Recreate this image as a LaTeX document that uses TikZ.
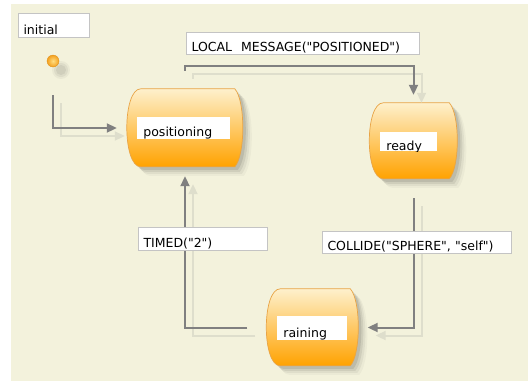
\documentclass[tikz,border=0pt]{standalone}
\usepackage{fontspec}
\setmainfont{DejaVu Sans}[Ligatures=TeXOff]
\usepackage{tikz}
\usetikzlibrary{arrows.meta, positioning, calc}
\definecolor{bgcream}{RGB}{243,242,220}
\definecolor{linegray}{RGB}{128,128,128}
\definecolor{lineshade}{RGB}{222,222,204}
\definecolor{tagline}{RGB}{196,196,196}
\definecolor{sttop}{RGB}{254,240,204}
\definecolor{stmid}{RGB}{255,204,100}
\definecolor{stbot}{RGB}{255,162,0}
\definecolor{stedge}{RGB}{232,164,70}
\definecolor{dotlight}{RGB}{255,222,130}
\definecolor{dotorange}{RGB}{244,160,30}
\newcommand{\lblfont}{\fontsize{12.5}{15}\selectfont}
% outline of a state: flat top and bottom, bulging sides
\newcommand{\stateoutline}[2]{%
  (14,0) -- ({#1-8},0) .. controls ({#1+2.67},{#2*0.15}) and ({#1+2.67},{#2*0.85}) .. ({#1-8},{#2})
  -- (14,{#2}) .. controls (-4.67,{#2}) and (-4.67,0) .. (14,0) -- cycle}
\tikzset{
  statenode/.style={rectangle, draw=none, inner sep=0pt},
  stateshape/.style={draw=stedge, line width=0.7pt,
    top color=sttop, middle color=stmid, bottom color=stbot},
  tagnode/.style={rectangle, draw=tagline, fill=white, line width=1pt,
    anchor=north west, inner xsep=5pt, inner ysep=0pt, align=left,
    text depth=3.5pt, font=\lblfont},
  statetag/.style n args={2}{rectangle, fill=white, anchor=north west, inner sep=0pt,
    path picture={\node[anchor=base west, inner sep=0pt, minimum size=0pt, font=\lblfont]
      at ([xshift=6pt,yshift=#2]path picture bounding box.south west) {#1};}},
  flowarrow/.style={-{Triangle[length=10pt,width=9pt]}, line width=2pt}
}
\begin{document}
\begin{tikzpicture}[x=1pt, y=-1pt,
  initdot/.style={circle, minimum size=12pt, inner sep=0pt,
    inner color=dotlight, outer color=dotorange, draw=dotorange!90!black, line width=0.3pt}]

  \useasboundingbox (0,0) rectangle (528,381);
  \fill[white] (0,0) rectangle (528,381);
  \fill[bgcream] (11,4) rectangle (528,381);

  % States
  \foreach \r/\o in {9/0.04, 7/0.05, 5/0.06}
    \fill[black, opacity=\o] (61,70) circle (\r);
  \node[initdot] (init) at (53,61) {};
  \foreach \s/\cx/\cy/\w/\h in {pos/185/128/116/78, ready/413.5/141/88/76, rain/312.5/327.5/92/77} {
    \node[statenode, minimum width=\w pt, minimum height=\h pt] (\s) at (\cx,\cy) {};
    \foreach \d/\o in {9/0.03, 7/0.05, 5/0.07, 3/0.09}
      \fill[black, opacity=\o, shift={(\s.north west)}, xshift=\d pt, yshift=-\d pt] \stateoutline{\w}{\h};
    \path[stateshape, shift={(\s.north west)}] \stateoutline{\w}{\h};
  }

  % Transitions (shade first, then the line)
  \coordinate (topbend) at (0,66);
  \foreach \col/\dd in {lineshade/8, linegray/0} {
    \begin{scope}[transform canvas={shift={(\dd pt,-\dd pt)}}]
      \draw[flowarrow, draw=\col, shorten <=28pt, shorten >=10pt] (init) |- (pos.west);
      \draw[flowarrow, draw=\col, shorten <=18pt, shorten >=8pt] (pos.north) |- (ready.north |- topbend) -- (ready.north);
      \draw[flowarrow, draw=\col, shorten <=19pt, shorten >=9pt] (ready.south) |- (rain.east);
      \draw[flowarrow, draw=\col, shorten <=19pt, shorten >=9pt] (rain.west) -| (pos.south);
    \end{scope}
  }

  % Labels
  \node[tagnode, text width=61pt, text height=20.5pt] (initlab) at (18,13) {initial};
  \node[tagnode, text width=223pt, text height=18.5pt] (msglab) at (186,32) {LOCAL\hspace{9pt}MESSAGE("POSITIONED")};
  \node[tagnode, text width=119pt, text height=19.5pt] (timelab) at (138,227) {TIMED("2")};
  \node[tagnode, text width=179pt, text height=18.5pt] (hitlab) at (322,231) {COLLIDE("SPHERE",\ "self")};

  \node[statetag={positioning}{2.5pt}, minimum width=93pt, minimum height=22pt] (poslab) at (137,117) {};
  \node[statetag={ready}{1pt}, minimum width=57pt, minimum height=19pt] (readylab) at (380,132) {};
  \node[statetag={raining}{2.5pt}, minimum width=70pt, minimum height=24pt] (rainlab) at (277,316) {};

\end{tikzpicture}
\end{document}
